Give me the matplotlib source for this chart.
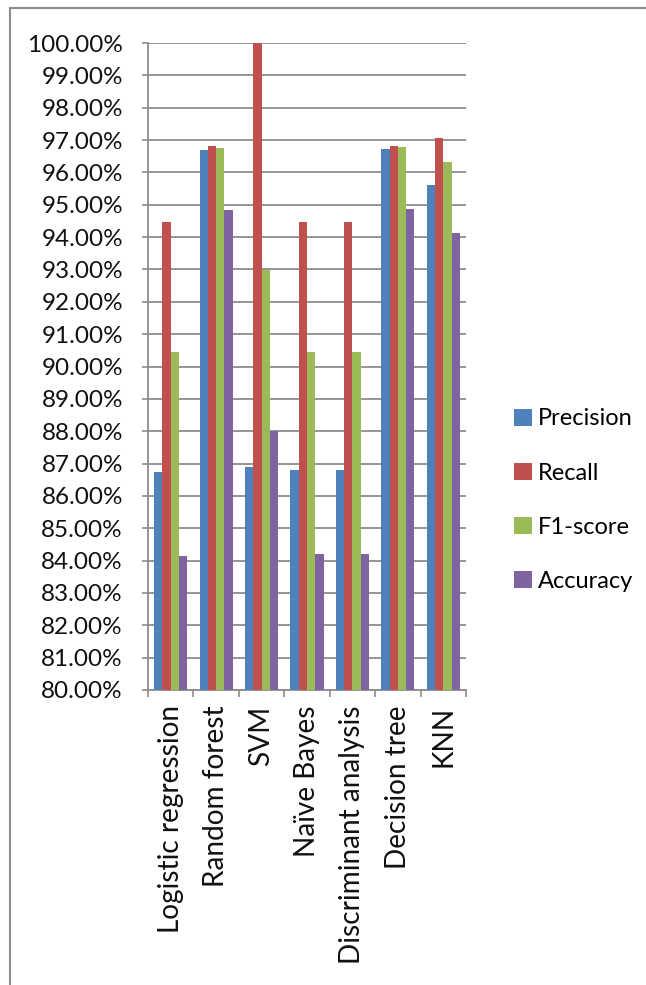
import matplotlib
matplotlib.use("Agg")
import matplotlib.pyplot as plt
import numpy as np
from matplotlib.patches import Rectangle
from matplotlib.lines import Line2D

categories = ["Logistic regression", "Random forest", "SVM", "Naïve Bayes",
              "Discriminant analysis", "Decision tree", "KNN"]
precision = [86.75, 96.69, 86.88, 86.80, 86.80, 96.72, 95.60]
recall = [94.46, 96.81, 100.00, 94.46, 94.46, 96.83, 97.05]
f1_score = [90.44, 96.75, 92.98, 90.44, 90.44, 96.77, 96.32]
accuracy = [84.14, 94.84, 88.02, 84.19, 84.19, 94.86, 94.14]

series_names = ["Precision", "Recall", "F1-score", "Accuracy"]
series_colors = ["#4F81BD", "#C0504D", "#9BBB59", "#8064A2"]
yticks = np.arange(80, 101, 1)

plt.rcParams["font.family"] = ["Lato", "DejaVu Sans"]

W, H = 646, 985
fig = plt.figure(figsize=(W / 100, H / 100), dpi=100)
ax = fig.add_axes([148 / W, 1 - 690 / H, (466 - 148) / W, (690 - 43) / H])

n_series = 4
gap = 1.5
bw = 1.0 / (n_series + gap)
x = np.arange(len(categories))
values = [precision, recall, f1_score, accuracy]
for i, (vals, name, col) in enumerate(zip(values, series_names, series_colors)):
    offs = -0.5 + gap * bw / 2 + bw * (i + 0.5)
    ax.bar(x + offs, np.array(vals) - 80, bottom=80, width=bw, color=col,
           label=name, zorder=3, linewidth=0)

ax.set_xlim(-0.5, len(categories) - 0.5)
ax.set_ylim(80, 100)
ax.set_yticks(yticks)
ax.set_yticklabels([f"{v:.2f}%" for v in yticks], fontsize=17.5, color="#111111")
ax.yaxis.grid(True, color="#8c8c8c", linewidth=1.3, zorder=0)
ax.set_axisbelow(True)

# category boundaries carry the ticks; labels sit at the group centres
ax.set_xticks(np.arange(-0.5, len(categories), 1.0))
ax.set_xticklabels([])
ax.set_xticks(x, minor=True)
ax.set_xticklabels(categories, minor=True, rotation=90, fontsize=20.2,
                   color="#111111", va="top", ha="center")
ax.tick_params(axis="x", which="major", length=5, width=1.2, color="#8c8c8c",
               direction="out")
ax.tick_params(axis="x", which="minor", length=0, pad=11)
ax.tick_params(axis="y", length=4, width=1.2, color="#8c8c8c", pad=14)

for s in ["top", "right"]:
    ax.spines[s].set_visible(False)
for s in ["left", "bottom"]:
    ax.spines[s].set_color("#8c8c8c")
    ax.spines[s].set_linewidth(1.3)

handles = [Rectangle((0, 0), 1, 1, facecolor=c, edgecolor="none") for c in series_colors]
fig.legend(handles, series_names, loc="upper left",
           bbox_to_anchor=(505 / W, 1 - 399 / H), frameon=False, fontsize=17,
           handlelength=0.75, handleheight=0.75, handletextpad=0.25,
           labelspacing=1.4, borderaxespad=0)

# outer frame
fig.add_artist(Line2D([10 / W, 10 / W], [0, 1 - 8 / H], transform=fig.transFigure,
                      color="#8c8c8c", linewidth=1.5))
fig.add_artist(Line2D([10 / W, 1], [1 - 8 / H, 1 - 8 / H], transform=fig.transFigure,
                      color="#8c8c8c", linewidth=1.5))

fig.savefig("out.png", dpi=100)
